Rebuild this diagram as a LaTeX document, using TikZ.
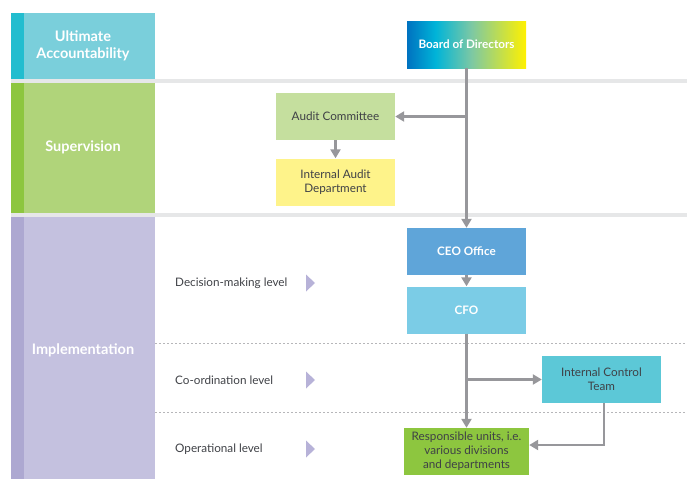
\documentclass[tikz,border=0pt]{standalone}
\usepackage{fontspec}
\setmainfont{Lato}
\usetikzlibrary{arrows.meta}
\definecolor{uadark}{HTML}{22BDCF}
\definecolor{ualight}{HTML}{7ACFDB}
\definecolor{supdark}{HTML}{8DC63F}
\definecolor{suplight}{HTML}{B0D47A}
\definecolor{impdark}{HTML}{ADA8D1}
\definecolor{implight}{HTML}{C4C1DF}
\definecolor{sepgray}{HTML}{E6E7E8}
\definecolor{linkgray}{HTML}{97979B}
\definecolor{textgray}{HTML}{3F4146}
\definecolor{acfill}{HTML}{C5DF9E}
\definecolor{iadfill}{HTML}{FEF38A}
\definecolor{ceofill}{HTML}{5FA5D9}
\definecolor{cfofill}{HTML}{7BCCE6}
\definecolor{ictfill}{HTML}{5CC8D7}
\definecolor{rufill}{HTML}{8DC63F}
\definecolor{lvlarrow}{HTML}{B7B2D8}
\definecolor{bodblue}{HTML}{0072C0}
\definecolor{bodcyan}{HTML}{00B4D8}
\definecolor{bodteal}{HTML}{7CC8A4}
\definecolor{bodyellow}{HTML}{FFF100}
\pgfdeclarehorizontalshading{bodshade}{100bp}{color(0bp)=(bodblue); color(25bp)=(bodblue); color(37bp)=(bodcyan); color(52bp)=(bodteal); color(75bp)=(bodyellow); color(100bp)=(bodyellow)}
\begin{document}
\begin{tikzpicture}[x=1pt,y=-1pt,
    unit/.style={minimum width=119pt,minimum height=47pt,inner sep=0pt,align=center,
      font=\fontsize{11.7}{14}\selectfont,text=textgray},
    head/.style={unit,text=white,font=\fontsize{11.7}{14}\selectfont\bfseries},
    section/.style={align=center,text=white,font=\fontsize{14.5}{17}\selectfont\bfseries},
    level/.style={anchor=west,inner sep=0pt,text=textgray,font=\fontsize{11.7}{14}\selectfont},
    link/.style={draw=linkgray,line width=2.6pt,-{Triangle[width=10pt,length=9pt]}}]
  \useasboundingbox (0,0) rectangle (687,479);
  % bands
  \fill[ualight] (11,13) rectangle (155,79);
  \fill[uadark] (11,13) rectangle (24,79);
  \fill[suplight] (11,83) rectangle (155,213);
  \fill[supdark] (11,83) rectangle (24,213);
  \fill[implight] (11,217) rectangle (155,479);
  \fill[impdark] (11,217) rectangle (24,479);
  \fill[sepgray] (11,79) rectangle (687,83);
  \fill[sepgray] (11,213) rectangle (687,217);
  \draw[linkgray!70,line width=0.6pt,dash pattern=on 2pt off 2pt] (155,343) -- (687,343);
  \draw[linkgray!70,line width=0.6pt,dash pattern=on 2pt off 2pt] (155,412) -- (687,412);
  \node[section] (ua) at (83,46) {Ultimate\\Accountability};
  \node[section] (sup) at (83,147) {Supervision};
  \node[section] (imp) at (83,350) {Implementation};
  % levels
  \node[level] (decision) at (175,283) {Decision-making level};
  \node[level] (coord) at (175,380) {Co-ordination level};
  \node[level] (oper) at (175,449) {Operational level};
  \foreach \y in {283,380,449}
    \fill[lvlarrow] (306,\y-8.5) -- (315,\y) -- (306,\y+8.5) -- cycle;
  % units
  \node[head,shading=bodshade] (bod) at (466.5,44.5) {Board of Directors};
  \node[unit,fill=acfill] (ac) at (335.5,116.5) {Audit Committee};
  \node[unit,fill=iadfill] (iad) at (335.5,182) {Internal Audit\\Department};
  \node[head,fill=ceofill] (ceo) at (466.5,251.5) {CEO Office};
  \node[head,fill=cfofill] (cfo) at (466.5,310) {CFO};
  \node[unit,fill=ictfill] (ict) at (601.5,379.5) {Internal Control\\Team};
  \node[unit,fill=rufill,minimum width=125pt] (ru) at (466.5,451.5)
    {Responsible units, i.e.\\various divisions\\and departments};
  \coordinate (acfork) at (466.5,116.5);
  \coordinate (ictfork) at (466.5,379.5);
  \coordinate (ictbend) at (604,445);
  \begin{scope}[link]
    \draw (bod) to (ceo);
    \draw (acfork) to (ac);
    \draw (ac) to (iad);
    \draw (ceo) to (cfo);
    \draw (cfo) to (ru);
    \draw (ictfork) to (ict);
    \draw (ict.south -| ictbend) |- (ru.east |- ictbend);
  \end{scope}
\end{tikzpicture}
\end{document}
